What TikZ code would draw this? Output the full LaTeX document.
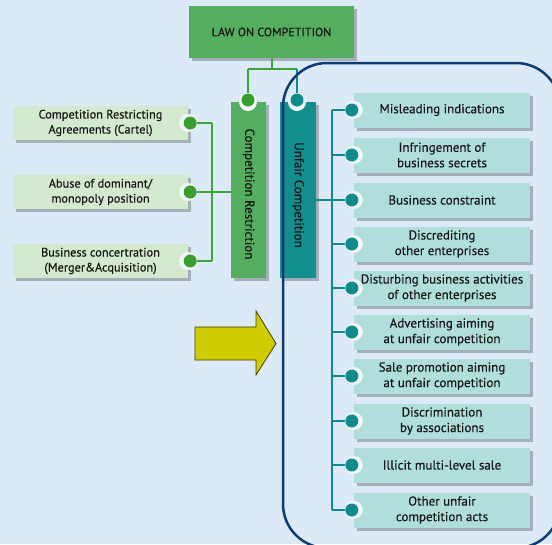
\documentclass[tikz,border=0pt]{standalone}
\usepackage{fontspec}
\setmainfont[FakeBold=0.25]{PT Sans}
\usetikzlibrary{shadows}
\definecolor{bgc}{HTML}{DCEAF7}
\definecolor{grn}{HTML}{55AE5F}
\definecolor{grnline}{HTML}{3DA535}
\definecolor{grndot}{HTML}{3A9E2E}
\definecolor{tealbox}{HTML}{138E8E}
\definecolor{tealline}{HTML}{0E8C8C}
\definecolor{lgrn}{HTML}{D4EACF}
\definecolor{lteal}{HTML}{B0DEDB}
\definecolor{navy}{HTML}{0D3B74}
\definecolor{arrowc}{HTML}{CFCC00}
\definecolor{notchc}{HTML}{F2F6FA}
\definecolor{txt}{HTML}{141414}
\tikzset{
  shd/.style={drop shadow={shadow xshift=3pt,shadow yshift=-3pt,fill=black,opacity=0.25}},
  lbox/.style={shd,fill=lgrn,minimum width=175pt,minimum height=34pt,inner sep=0pt,align=center,text=txt,font=\fontsize{12.3}{15}\selectfont},
  rbox/.style={shd,fill=lteal,minimum width=176pt,minimum height=35pt,inner sep=0pt,align=center,text=txt,font=\fontsize{13}{15.5}\selectfont},
  vbox/.style={shd,minimum width=35pt,minimum height=176pt,inner sep=0pt},
  vtxt/.style={rotate=-90,text=txt,font=\fontsize{13}{15}\selectfont},
  notch/.style={fill=notchc,draw=none},
  gdot/.style={fill=grndot,draw=none},
  tdot/.style={fill=tealline,draw=none},
  gln/.style={draw=grnline,line width=2.2pt},
  tln/.style={draw=tealline,line width=2.2pt},
}
\begin{document}
\begin{tikzpicture}[x=1pt,y=-1pt]
\useasboundingbox (0,0) rectangle (552,544);
\fill[bgc] (0,0) rectangle (552,544);
\begin{scope}
\clip (0,0) rectangle (552,544);
% title
\node[shd,fill=grn,minimum width=165pt,minimum height=52pt,inner sep=0pt,text=txt,font=\fontsize{12}{14}\selectfont] (law) at (271.5,32) {LAW ON COMPETITION};
% vertical boxes
\node[vbox,fill=grn] (cr) at (248.5,190) {};
\node[vbox,fill=tealbox,minimum width=36pt] (uc) at (298,190) {};
\node[vtxt] at ([yshift=-4pt]cr.center) {Competition Restriction};
\node[vtxt] at ([yshift=-5pt]uc.center) {Unfair Competition};
% law connectors
\coordinate (lj) at (272,69);
\coordinate (ljl) at (248,69);
\coordinate (ljr) at (297,69);
\draw[gln] (law.south -| lj) -- (lj);
\draw[gln] (ljl) -- (ljr);
\draw[gln] (ljl) -- (248,100);
\draw[tln] (ljr) -- (297,100);
\fill[notch] (248,102) circle (9);
\fill[notch] (297,102) circle (9);
\fill[gdot] (248,100) circle (6.5);
\fill[tdot] (297,100) circle (6.5);
% left items
\node[lbox] (l1) at (100.5,123) {Competition Restricting\\Agreements (Cartel)};
\node[lbox] (l2) at (100.5,192) {Abuse of dominant/\\monopoly position};
\node[lbox] (l3) at (100.5,261) {Business concertration\\(Merger\&Acquisition)};
\coordinate (gv1) at (212,123);
\coordinate (gv3) at (212,261);
\draw[gln] (gv1) -- (gv3);
\foreach \n in {l1,l2,l3}{
  \draw[gln] (\n.east) -- (\n.east -| gv1);
  \fill[notch] (\n.east) circle (9);
  \fill[gdot] ([xshift=2pt]\n.east) circle (6.5);
}
\draw[gln] (l2.east -| gv1) -- (l2.east -| cr.west);
% right items
\foreach \i/\y/\t in {1/110/{Misleading indications},
  2/155/{Infringement of\\business secrets},
  3/200/{Business constraint},
  4/244/{Discrediting\\other enterprises},
  5/288/{Disturbing business activities\\of other enterprises},
  6/332/{Advertising aiming\\at unfair competition},
  7/376/{Sale promotion aiming\\at unfair competition},
  8/421/{Discrimination\\by associations},
  9/465/{Illicit multi-level sale},
  10/510/{Other unfair\\competition acts}}{
  \node[rbox] (r\i) at (442,\y) {\t};
}
\coordinate (tv1) at (332,110);
\coordinate (tv10) at (332,510);
\draw[tln] (tv1) -- (tv10);
\foreach \i in {1,...,10}{
  \draw[tln] (r\i.west -| tv1) -- (r\i.west);
  \fill[notch] (r\i.west) circle (9);
  \fill[tdot] ([xshift=-2pt]r\i.west) circle (6.5);
}
\draw[tln] (uc.east |- r3.west) -- (r3.west -| tv1);
% navy frame
\draw[navy,line width=2.5pt,rounded corners=44pt] (283,63) rectangle (560,548);
% arrow
\draw[fill=arrowc,draw=black!70!arrowc,line width=0.8pt] (195,327) -- (256,327) -- (256,311) -- (276,343.5) -- (256,375) -- (256,360) -- (195,360) -- cycle;
\end{scope}
\end{tikzpicture}
\end{document}
